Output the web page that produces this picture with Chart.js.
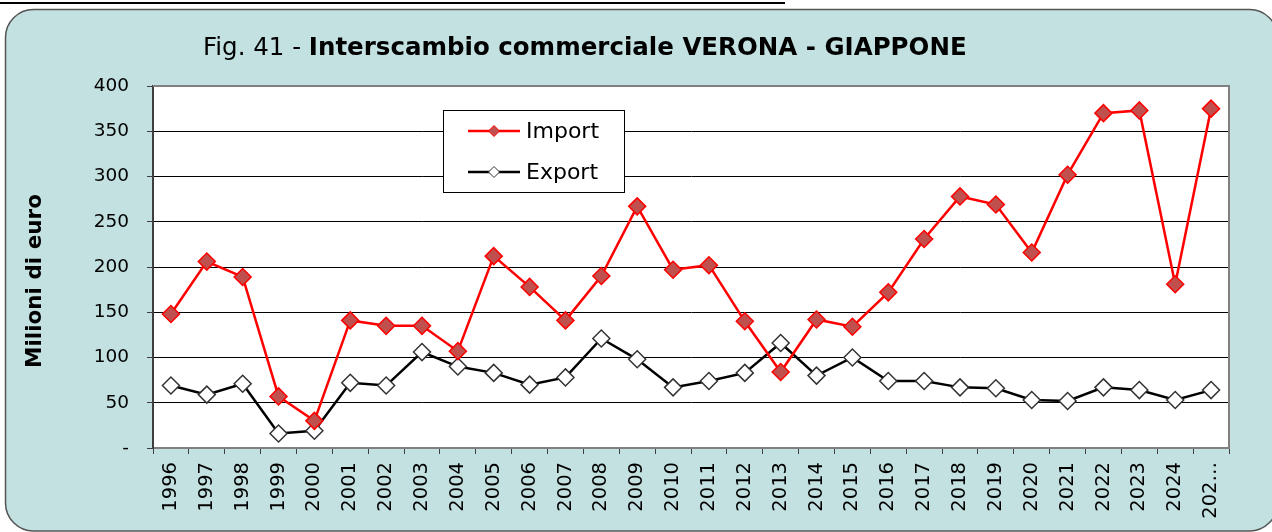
<!DOCTYPE html>
<html>
<head>
<meta charset="utf-8">
<script src="https://cdn.jsdelivr.net/npm/chart.js@4/dist/chart.umd.min.js"></script>
<style>
  html, body { margin: 0; padding: 0; background: #ffffff; }
  #wrap { width: 1272px; height: 532px; }
</style>
</head>
<body>
<div id="wrap"><canvas id="c" width="1272" height="532"></canvas></div>
<script>
// Years on the category axis (the last one is shown truncated)
const years = ['1996','1997','1998','1999','2000','2001','2002','2003','2004','2005',
               '2006','2007','2008','2009','2010','2011','2012','2013','2014','2015',
               '2016','2017','2018','2019','2020','2021','2022','2023','2024','202\u2026'];

// Values in millions of euro
const importValues = [148, 206, 189, 57, 30, 141, 135, 135, 107, 212,
                      178, 141, 190, 267, 197, 202, 140, 84, 142, 134,
                      172, 231, 278, 269, 216, 302, 370, 373, 181, 375];
const exportValues = [69, 59, 71, 16, 19, 72, 69, 106, 90, 83,
                      70, 78, 121, 98, 67, 74, 83, 116, 80, 100,
                      74, 74, 67, 66, 53, 52, 67, 64, 53, 64];

const yMin = 0, yMax = 400, yStep = 50;

const titleNormal = 'Fig. 41 - ';
const titleBold = 'Interscambio commerciale VERONA - GIAPPONE';
const yAxisTitle = 'Milioni di euro';
const seriesNames = ['Import', 'Export'];

const FONT = "'DejaVu Sans', Verdana, sans-serif";

// Page frame: rounded teal panel, white plot area, grey plot border
const framePlugin = {
  id: 'frame',
  beforeDraw(chart) {
    const ctx = chart.ctx;
    const a = chart.chartArea;
    ctx.save();
    ctx.fillStyle = '#ffffff';
    ctx.fillRect(0, 0, chart.width, chart.height);
    // rule above the panel
    ctx.strokeStyle = '#000000';
    ctx.lineWidth = 2;
    ctx.beginPath();
    ctx.moveTo(0, 3);
    ctx.lineTo(785, 3);
    ctx.stroke();
    // rounded panel
    const x = 5.5, y = 9.5, w = 1272, h = 521.5, r = 28;
    ctx.beginPath();
    ctx.moveTo(x + r, y);
    ctx.lineTo(x + w - r, y);
    ctx.arcTo(x + w, y, x + w, y + r, r);
    ctx.lineTo(x + w, y + h - r);
    ctx.arcTo(x + w, y + h, x + w - r, y + h, r);
    ctx.lineTo(x + r, y + h);
    ctx.arcTo(x, y + h, x, y + h - r, r);
    ctx.lineTo(x, y + r);
    ctx.arcTo(x, y, x + r, y, r);
    ctx.closePath();
    ctx.fillStyle = '#c3e1e1';
    ctx.fill();
    ctx.strokeStyle = '#555555';
    ctx.lineWidth = 1.5;
    ctx.stroke();
    // plot background
    ctx.fillStyle = '#ffffff';
    ctx.fillRect(a.left, a.top, a.right - a.left, a.bottom - a.top);
    ctx.restore();
  },
  beforeDatasetsDraw(chart) {
    const ctx = chart.ctx;
    const a = chart.chartArea;
    ctx.save();
    ctx.strokeStyle = '#808080';
    ctx.lineWidth = 2;
    ctx.beginPath();
    ctx.moveTo(a.left, a.top);
    ctx.lineTo(a.right, a.top);
    ctx.lineTo(a.right, a.bottom);
    ctx.stroke();
    ctx.restore();
  }
};

// Title with a regular prefix and bold body, plus the rotated y-axis title
const textPlugin = {
  id: 'texts',
  afterDraw(chart) {
    const ctx = chart.ctx;
    ctx.save();
    ctx.fillStyle = '#000000';
    ctx.textBaseline = 'alphabetic';
    ctx.textAlign = 'left';
    ctx.font = '24.5px ' + FONT;
    const x0 = 203, yb = 55;
    ctx.fillText(titleNormal, x0, yb);
    const wN = ctx.measureText(titleNormal).width;
    ctx.font = 'bold 24.5px ' + FONT;
    ctx.fillText(titleBold, x0 + wN, yb);

    ctx.translate(35, 281);
    ctx.rotate(-Math.PI / 2);
    ctx.font = 'bold 21.5px ' + FONT;
    ctx.textAlign = 'center';
    ctx.textBaseline = 'middle';
    ctx.fillText(yAxisTitle, 0, 0);
    ctx.restore();
  }
};

// Boxed legend placed inside the plot area
const legendPlugin = {
  id: 'boxLegend',
  afterDatasetsDraw(chart) {
    const ctx = chart.ctx;
    const bx = 443.5, by = 110.5, bw = 181, bh = 82;
    ctx.save();
    ctx.fillStyle = '#ffffff';
    ctx.fillRect(bx, by, bw, bh);
    ctx.strokeStyle = '#000000';
    ctx.lineWidth = 1;
    ctx.strokeRect(bx, by, bw, bh);
    const rows = [131, 172];
    chart.data.datasets.forEach((ds, i) => {
      const yy = rows[i];
      ctx.strokeStyle = ds.borderColor;
      ctx.lineWidth = ds.borderWidth;
      ctx.beginPath();
      ctx.moveTo(468, yy);
      ctx.lineTo(520, yy);
      ctx.stroke();
      ctx.fillStyle = ds.pointBackgroundColor;
      ctx.strokeStyle = ds.pointBorderColor;
      ctx.lineWidth = 1;
      Chart.helpers.drawPoint(ctx, { pointStyle: 'rectRot', radius: 5.5, rotation: 0, borderWidth: 1 }, 494, yy);
      ctx.fillStyle = '#000000';
      ctx.font = '22px ' + FONT;
      ctx.textAlign = 'left';
      ctx.textBaseline = 'middle';
      ctx.fillText(ds.label, 526, yy + 1);
    });
    ctx.restore();
  }
};

new Chart(document.getElementById('c'), {
  type: 'line',
  data: {
    labels: years,
    datasets: [
      {
        label: seriesNames[0],
        data: importValues,
        borderColor: '#ff0000',
        borderWidth: 2.5,
        pointStyle: 'rectRot',
        pointRadius: 8.5,
        pointHoverRadius: 8.5,
        pointBackgroundColor: '#c0504d',
        pointBorderColor: '#ff0000',
        pointBorderWidth: 1.5,
        tension: 0
      },
      {
        label: seriesNames[1],
        data: exportValues,
        borderColor: '#000000',
        borderWidth: 2.5,
        pointStyle: 'rectRot',
        pointRadius: 8.5,
        pointHoverRadius: 8.5,
        pointBackgroundColor: '#ffffff',
        pointBorderColor: '#333333',
        pointBorderWidth: 1.5,
        tension: 0
      }
    ]
  },
  options: {
    responsive: false,
    animation: false,
    devicePixelRatio: 1,
    layout: { padding: { left: 20, top: 86, right: 43, bottom: 0 } },
    plugins: {
      legend: { display: false },
      title: { display: false },
      tooltip: { enabled: false }
    },
    scales: {
      x: {
        type: 'category',
        offset: true,
        grid: {
          offset: true,
          drawOnChartArea: false,
          drawTicks: true,
          tickLength: 6,
          color: '#404040',
          lineWidth: 1
        },
        border: { color: '#808080', width: 2 },
        ticks: {
          autoSkip: false,
          minRotation: 90,
          maxRotation: 90,
          padding: 8,
          color: '#000000',
          font: { family: FONT, size: 19.5 }
        },
        afterFit(scale) { scale.height = 84; }
      },
      y: {
        min: yMin,
        max: yMax,
        grid: {
          color: '#000000',
          lineWidth: 1,
          tickLength: 6,
          tickColor: '#404040'
        },
        border: { color: '#404040', width: 2 },
        ticks: {
          stepSize: yStep,
          padding: 18,
          color: '#000000',
          font: { family: FONT, size: 18.5 },
          callback: (v) => (v === 0 ? '-' : v)
        },
        afterFit(scale) { scale.width = 133; }
      }
    }
  },
  plugins: [framePlugin, textPlugin, legendPlugin]
});
</script>
</body>
</html>
